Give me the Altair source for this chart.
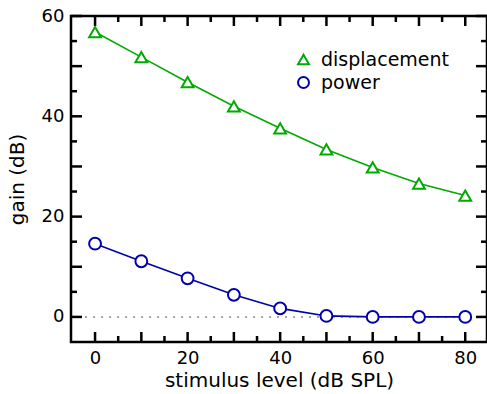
import altair as alt
import pandas as pd

levels = [0, 10, 20, 30, 40, 50, 60, 70, 80]
displacement = [56.8, 51.8, 46.8, 42.0, 37.6, 33.4, 29.8, 26.6, 24.2]
power = [14.6, 11.1, 7.7, 4.4, 1.7, 0.2, 0.0, 0.0, 0.0]
series = ["displacement", "power"]
colors = ["#00aa00", "#0000aa"]
shapes = ["triangle-up", "circle"]

x_labels = [0, 20, 40, 60, 80]
y_labels = [0, 20, 40, 60]
x_major = [0, 10, 20, 30, 40, 50, 60, 70, 80]
x_minor = [5, 15, 25, 35, 45, 55, 65, 75]
y_major = [0, 10, 20, 30, 40, 50, 60]
y_minor = [5, 15, 25, 35, 45, 55]
reference = [0]

W, H = 416, 326
FONT = "DejaVu Sans"
LONG, SHORT = 11, 6

df = pd.DataFrame({
    "level": levels + levels,
    "gain": displacement + power,
    "series": [series[0]] * len(levels) + [series[1]] * len(levels),
})

xs = alt.Scale(domain=[-5.2, 84.7], nice=False, zero=False)
ys = alt.Scale(domain=[-5, 60], nice=False, zero=False)
cs = alt.Scale(domain=series, range=colors)
ss = alt.Scale(domain=series, range=shapes)


def x_ticks(values, start, end):
    return alt.Chart(pd.DataFrame({"v": values})).mark_rule(
        color="black", strokeWidth=2.5
    ).encode(x=alt.X("v:Q", scale=xs, axis=None),
             y=alt.value(start), y2=alt.value(end))


def y_ticks(values, start, end):
    return alt.Chart(pd.DataFrame({"v": values})).mark_rule(
        color="black", strokeWidth=2.5
    ).encode(y=alt.Y("v:Q", scale=ys, axis=None),
             x=alt.value(start), x2=alt.value(end))


zero = alt.Chart(pd.DataFrame({"z": reference})).mark_rule(
    stroke="#888888", strokeDash=[2, 6], strokeWidth=1.5
).encode(y=alt.Y("z:Q", scale=ys, axis=None))

ticks = [
    x_ticks(x_major, H, H - LONG + 1),
    x_ticks(x_minor, H, H - SHORT),
    x_ticks(x_major, 0, LONG - 1),
    x_ticks(x_minor, 0, SHORT),
    y_ticks(y_major, 0, LONG),
    y_ticks(y_minor, 0, SHORT),
    y_ticks(y_major, W, W - LONG),
    y_ticks(y_minor, W, W - SHORT),
]

x_axis = alt.Axis(values=x_labels, orient="bottom", tickSize=0, domain=False,
                  grid=False, labelPadding=7, labelFontSize=18, labelFont=FONT,
                  labelColor="black", title="stimulus level (dB SPL)",
                  titleFontSize=20, titleFont=FONT, titleFontWeight="normal",
                  titleColor="black", titlePadding=3)
y_axis = alt.Axis(values=y_labels, orient="left", tickSize=0, domain=False,
                  grid=False, labelPadding=7, labelFontSize=18, labelFont=FONT,
                  labelColor="black", title="gain (dB)", titleFontSize=20,
                  titleFont=FONT, titleFontWeight="normal", titleColor="black",
                  titlePadding=14)

line = alt.Chart(df).mark_line(strokeWidth=1.6).encode(
    x=alt.X("level:Q", scale=xs, axis=x_axis),
    y=alt.Y("gain:Q", scale=ys, axis=y_axis),
    stroke=alt.Stroke("series:N", scale=cs),
)

points = alt.Chart(df).mark_point(opacity=1, strokeWidth=2, size=140).encode(
    x=alt.X("level:Q", scale=xs, axis=None),
    y=alt.Y("gain:Q", scale=ys, axis=None),
    stroke=alt.Stroke("series:N", scale=cs),
    shape=alt.Shape("series:N", scale=ss),
    fill=alt.value("white"),
)

chart = alt.layer(zero, *ticks, line, points).resolve_scale(
    x="shared", y="shared"
).resolve_axis(x="independent", y="independent").properties(
    width=W, height=H,
    autosize=alt.AutoSizeParams(type="none"),
    padding={"left": 71, "top": 16, "right": 0, "bottom": 52},
).configure_view(
    stroke="black", strokeWidth=2.5
).configure_legend(
    orient="none", legendX=223, legendY=34, title=None, labelFontSize=19,
    labelFont=FONT, labelColor="black", symbolSize=120, symbolStrokeWidth=2,
    labelOffset=8, rowPadding=3, padding=0, symbolFillColor="white"
)

chart.save("out.html", embed_options={"renderer": "svg", "actions": False})
